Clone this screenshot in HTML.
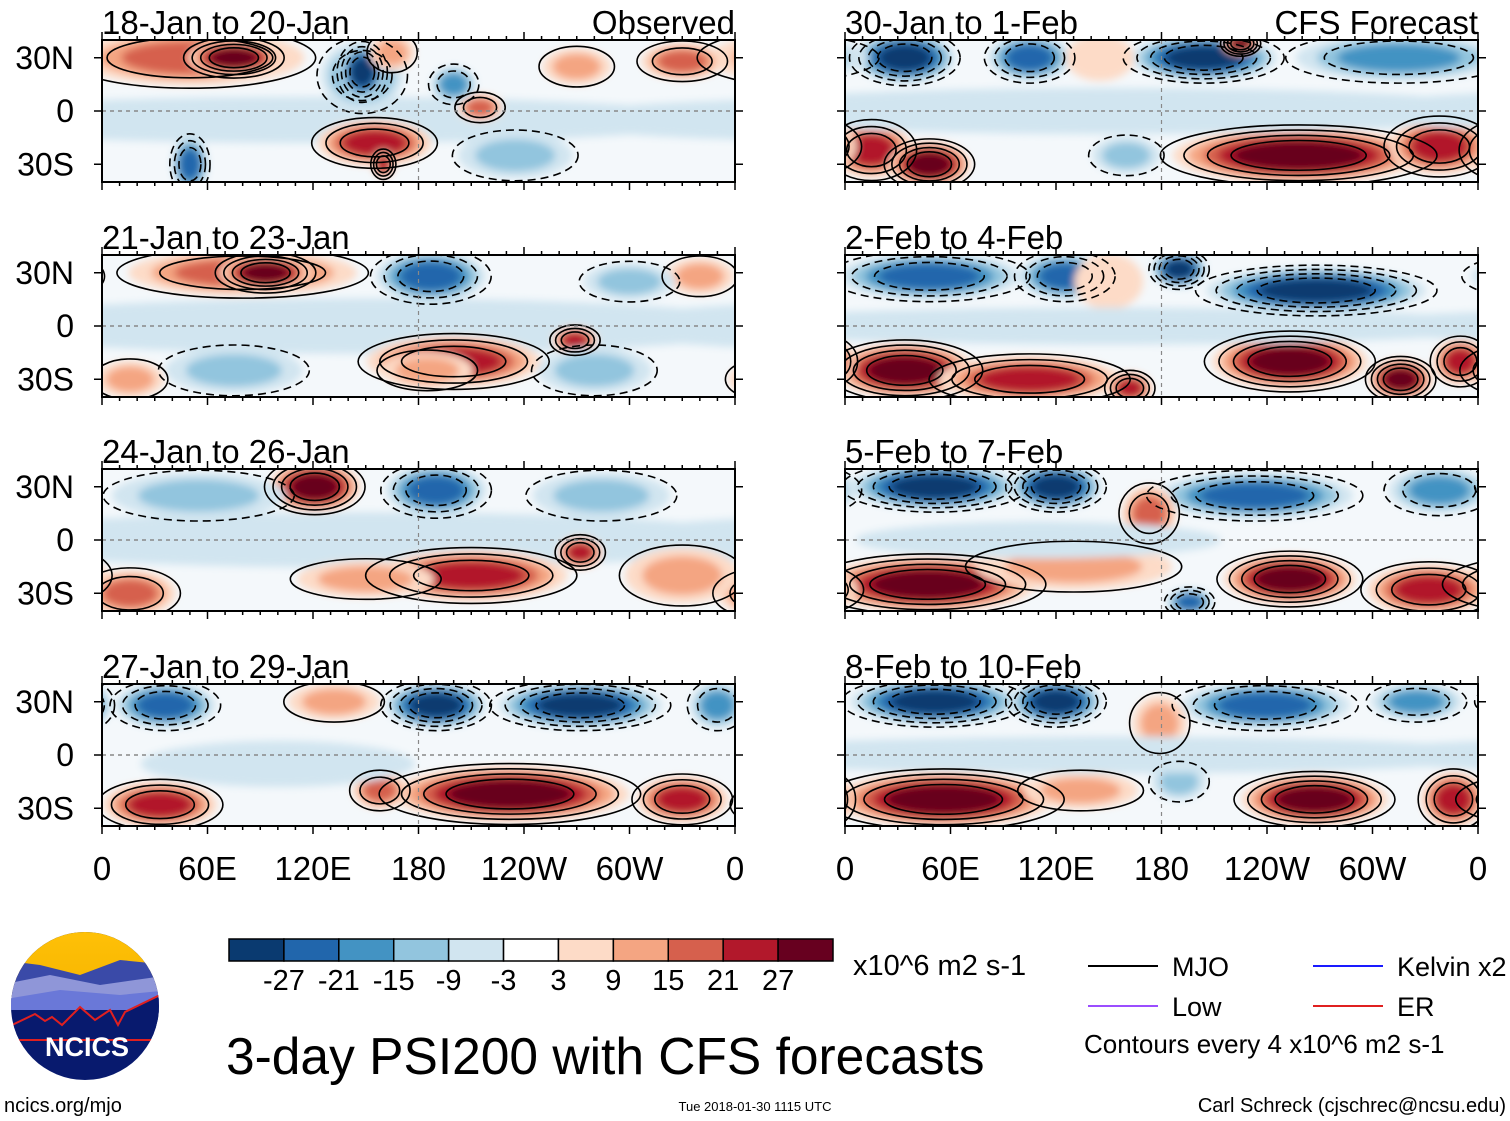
<!DOCTYPE html>
<html><head><meta charset="utf-8"><style>
body{margin:0;background:#fff;width:1510px;height:1121px;overflow:hidden;font-family:"Liberation Sans",sans-serif}
svg{position:absolute;left:0;top:0}
</style></head><body>
<svg id="fig" width="1510" height="1121" viewBox="0 0 1510 1121">
<defs><filter id="bl" x="-5%" y="-20%" width="110%" height="140%"><feGaussianBlur stdDeviation="4"/></filter>
<linearGradient id="sky" x1="0" y1="0" x2="0" y2="1"><stop offset="0" stop-color="#ffc107"/><stop offset="1" stop-color="#f5b400"/></linearGradient>
<clipPath id="logoclip"><circle cx="85" cy="1006" r="74"/></clipPath></defs>
</svg>
<script>
const levelColors=['#0a3a70','#2166ac','#4393c3','#92c5de','#d1e5f0','#ffffff','#fddbc7','#f4a582','#d6604d','#b2182b','#67001f'];
const colorbarTicks=['-27','-21','-15','-9','-3','3','9','15','21','27'];
const panelTitles=['18-Jan to 20-Jan','21-Jan to 23-Jan','24-Jan to 26-Jan','27-Jan to 29-Jan','30-Jan to 1-Feb','2-Feb to 4-Feb','5-Feb to 7-Feb','8-Feb to 10-Feb'];
const lonTicks=['0','60E','120E','180','120W','60W','0'];
const latTicks=['30N','0','30S'];
// blobs: [lon, lat, value, lonRadius, latRadius]
const p1=[[120,-5,-3,180,10],[50,30,15,50,12],[75,30,27,20,8],[148,20,-15,18,15],[148,22,-27,10,12],[165,33,9,10,8],[155,-18,21,25,10],[160,-30,21,5,6],[215,2,15,10,6],[50,-30,-21,8,12],[235,-25,-9,25,10],[330,28,15,18,8],[270,25,9,15,8],[200,15,-15,10,8]];
const p2=[[150,0,-3,180,12],[80,30,15,50,10],[93,30,27,20,8],[187,28,-21,24,11],[200,-20,21,38,11],[269,-8,21,10,6],[185,-25,9,20,8],[75,-25,-9,30,10],[340,28,9,15,8],[16,-30,9,15,8],[280,-25,-9,25,10],[300,25,-9,20,8]];
const p3=[[150,0,-3,180,12],[121,30,27,20,11],[190,28,-21,22,11],[55,25,-9,38,10],[210,-20,21,42,11],[272,-7,21,10,7],[16,-30,15,20,10],[284,25,-9,30,10],[150,-22,9,30,8],[330,-20,9,25,12]];
const p4=[[36,28,-21,22,10],[190,28,-27,22,10],[272,28,-27,36,10],[350,28,-15,12,10],[132,30,9,20,8],[232,-22,27,52,12],[33,-28,21,25,10],[330,-25,21,20,10],[158,-20,15,12,8],[100,-5,-3,60,10]];
const p5=[[34,30,-27,22,11],[105,30,-21,18,10],[204,30,-27,32,10],[315,30,-15,45,10],[15,-22,21,18,12],[48,-30,27,18,10],[258,-25,27,55,12],[338,-20,21,22,12],[225,38,27,8,5],[145,30,3,15,10],[160,-25,-9,15,8],[150,0,-3,180,10]];
const p6=[[48,28,-21,40,10],[125,28,-21,20,10],[190,32,-27,12,8],[268,20,-27,48,10],[34,-25,27,31,12],[105,-30,21,40,10],[162,-35,21,10,7],[253,-20,27,34,12],[316,-30,27,14,9],[350,-20,21,12,10],[150,25,3,15,12],[150,0,-3,180,8]];
const p7=[[51,30,-27,37,10],[120,30,-27,20,10],[233,25,-21,43,10],[338,28,-15,22,10],[47,-25,27,47,12],[253,-22,27,29,11],[332,-28,21,27,11],[196,-35,-21,10,6],[173,15,15,12,12],[130,-15,9,43,10],[110,0,-3,80,8]];
const p8=[[51,30,-27,37,10],[120,30,-27,20,10],[239,28,-21,37,10],[325,30,-15,20,8],[56,-25,27,48,12],[267,-25,27,32,11],[346,-25,21,14,12],[179,18,9,12,12],[190,-15,-9,12,8],[134,-20,9,25,8],[150,0,-3,180,8]];
const panelBlobs=[p1,p2,p3,p4,p5,p6,p7,p8];

const NS='http://www.w3.org/2000/svg';
const svg=document.getElementById('fig');
function mk(tag,attrs,parent){const e=document.createElementNS(NS,tag);for(const k in attrs)e.setAttribute(k,attrs[k]);(parent||svg).appendChild(e);return e;}
const PW=633,PH=142,GROW=1.3;
const rowY=[40,255,469,684],colX=[102,845];
function levelOffset(v){return Math.sign(v)*Math.round(Math.abs(v)/6);}

panelBlobs.forEach((blobs,pi)=>{
  const x0=colX[pi<4?0:1], y0=rowY[pi%4];
  const xs=lon=>x0+lon/360*PW;
  const ys=lat=>y0+PH/2-lat/40*(PH/2);
  const g=mk('g',{});
  
  
  const cp=mk('clipPath',{id:'cp'+pi},g);
  mk('rect',{x:x0,y:y0,width:PW,height:PH},cp);
  const inner=mk('g',{'clip-path':'url(#cp'+pi+')'},g);
  mk('rect',{x:x0,y:y0,width:PW,height:PH,fill:'#f4f8fb'},inner);
  const shade=mk('g',{filter:'url(#bl)'},inner);
  const cont=mk('g',{fill:'none',stroke:'#000','stroke-width':1.6},inner);
  blobs.forEach(b=>{
    const [lon,lat,v,rl,rt]=b;const off=levelOffset(v);const n=Math.abs(off),sg=Math.sign(off);
    [-360,0,360].forEach(sh=>{
      for(let k=1;k<=n;k++){
        const s=GROW*(1-(k-1)/n*0.6);
        const e=mk('ellipse',{cx:xs(lon+sh),cy:ys(lat),rx:rl/360*PW*s,ry:rt/40*(PH/2)*s,fill:levelColors[5+sg*k]},shade);
        
        
      }
      if(Math.abs(v)>=9){
        const m=Math.round(Math.abs(v)/7);
        for(let j=0;j<m;j++){
          const s=GROW*(1.1-j*0.75/m);
          const c=mk('ellipse',{cx:xs(lon+sh),cy:ys(lat),rx:rl/360*PW*s,ry:rt/40*(PH/2)*s},cont);
          if(v<0)c.setAttribute('stroke-dasharray','8,5');
          
          
        }
      }
    });
  });
  mk('line',{x1:x0,x2:x0+PW,y1:ys(0),y2:ys(0),stroke:'#888','stroke-width':1.5,'stroke-dasharray':'4,4'},inner);
  mk('line',{x1:xs(180),x2:xs(180),y1:y0,y2:y0+PH,stroke:'#888','stroke-width':1.2,'stroke-dasharray':'4,4'},inner);
  mk('rect',{x:x0,y:y0,width:PW,height:PH,fill:'none',stroke:'#000','stroke-width':2},g);
  for(let l=0;l<=360;l+=10){const t=l%60==0?8:4;
    mk('line',{x1:xs(l),x2:xs(l),y1:y0,y2:y0-t,stroke:'#000','stroke-width':1.5},g);
    mk('line',{x1:xs(l),x2:xs(l),y1:y0+PH,y2:y0+PH+t,stroke:'#000','stroke-width':1.5},g);}
  [30,0,-30].forEach(la=>{mk('line',{x1:x0,x2:x0-8,y1:ys(la),y2:ys(la),stroke:'#000','stroke-width':1.5},g);mk('line',{x1:x0+PW,x2:x0+PW+8,y1:ys(la),y2:ys(la),stroke:'#000','stroke-width':1.5},g);});
  const t=mk('text',{x:x0,y:y0-6,'font-size':33},g);t.textContent=panelTitles[pi];
  
  if(pi==0||pi==4){const r=mk('text',{x:x0+PW,y:y0-6,'font-size':33,'text-anchor':'end'},g);r.textContent=pi==0?'Observed':'CFS Forecast';
    }
  if(pi<4){[30,0,-30].forEach((la,i)=>{const a=mk('text',{x:74,y:ys(la)+11,'font-size':32,'text-anchor':'end'},g);a.textContent=latTicks[i];
    });}
  if(pi%4==3){lonTicks.forEach((lb,i)=>{const a=mk('text',{x:xs(i*60),y:880,'font-size':33,'text-anchor':'middle'},g);a.textContent=lb;
    });}
});

// colorbar
const cb=mk('g',{});

const cbx=229,cbw=604/11;
levelColors.forEach((c,i)=>mk('rect',{x:cbx+i*cbw,y:939,width:cbw,height:22,fill:c,stroke:'#000','stroke-width':1.5},cb));
colorbarTicks.forEach((t,i)=>{const a=mk('text',{x:cbx+(i+1)*cbw,y:990,'font-size':29,'text-anchor':'middle'},cb);a.textContent=t;});
const u=mk('text',{x:853,y:975,'font-size':29},cb);u.textContent='x10^6 m2 s-1';

// legend
const lg=mk('g',{'font-size':27});

[[1088,966,'#000','MJO'],[1313,966,'#1a1aff','Kelvin x2'],[1088,1006,'#9b4dff','Low'],[1313,1006,'#e02020','ER']].forEach(d=>{
  mk('line',{x1:d[0],x2:d[0]+70,y1:d[1],y2:d[1],stroke:d[2],'stroke-width':2},lg);
  const a=mk('text',{x:d[0]+84,y:d[1]+10},lg);a.textContent=d[3];});
const ce=mk('text',{x:1084,y:1053,'font-size':26},lg);ce.textContent='Contours every 4 x10^6 m2 s-1';

const ti=mk('text',{x:226,y:1074,'font-size':51.5});ti.textContent='3-day PSI200 with CFS forecasts';

const f1=mk('text',{x:4,y:1112,'font-size':20});f1.textContent='ncics.org/mjo';

const f2=mk('text',{x:755,y:1111,'font-size':13,'text-anchor':'middle'});f2.textContent='Tue 2018-01-30 1115 UTC';

const f3=mk('text',{x:1506,y:1112,'font-size':20,'text-anchor':'end'});f3.textContent='Carl Schreck (cjschrec@ncsu.edu)';


// logo
const lo=mk('g',{'clip-path':'url(#logoclip)'});

mk('rect',{x:0,y:930,width:170,height:160,fill:'#081a6e'},lo);
mk('rect',{x:0,y:930,width:170,height:70,fill:'url(#sky)'},lo);
mk('path',{d:'M0 960 L40 965 L80 975 L120 960 L170 965 L170 1010 L0 1010Z',fill:'#3a4aa8'},lo);
mk('path',{d:'M0 985 L50 975 L100 985 L170 975 L170 1010 L0 1010Z',fill:'#8f96d8'},lo);
mk('path',{d:'M0 1000 L60 990 L120 995 L170 990 L170 1010 L0 1010Z',fill:'#6a78d8'},lo);
mk('path',{d:'M10 1026 L35 1014 L45 1021 L52 1017 L62 1025 L80 1007 L95 1020 L110 1010 L118 1025 L125 1012 L160 995 L170 995 L170 1040 L0 1040Z',fill:'#081a6e',stroke:'#e02020','stroke-width':2},lo);
const lt=mk('text',{x:87,y:1056,'font-size':27,'font-weight':'bold',fill:'#fff','text-anchor':'middle'},lo);lt.textContent='NCICS';
</script>
</body></html>
